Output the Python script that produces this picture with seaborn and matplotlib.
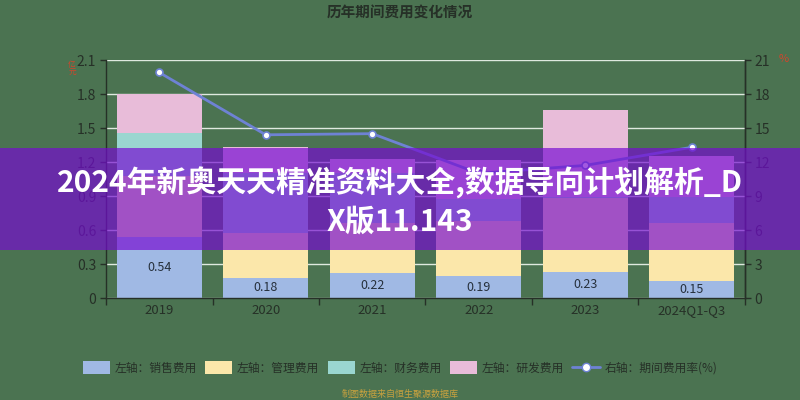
import numpy as np
import pandas as pd
import matplotlib
matplotlib.use("Agg")
import matplotlib.pyplot as plt
from matplotlib.patches import Patch, Rectangle
from matplotlib.lines import Line2D
import seaborn as sns

# ---------------- data ----------------
categories = ['2019', '2020', '2021', '2022', '2023', '2024Q1-Q3']
sales = [0.54, 0.18, 0.22, 0.19, 0.23, 0.15]        # 销售费用
mgmt = [0.54, 0.39, 0.44, 0.49, 0.65, 0.51]         # 管理费用
fin = [0.38, 0.53, 0.44, 0.19, 0.01, 0.23]          # 财务费用
rnd = [0.34, 0.23, 0.13, 0.35, 0.77, 0.36]          # 研发费用
rate = [19.9, 14.4, 14.5, 11.0, 11.7, 13.3]         # 期间费用率(%)
left_ticks = [0, 0.3, 0.6, 0.9, 1.2, 1.5, 1.8, 2.1]
right_ticks = [0, 3, 6, 9, 12, 15, 18, 21]

series_names = ['左轴：销售费用', '左轴：管理费用', '左轴：财务费用', '左轴：研发费用']
line_name = '右轴：期间费用率(%)'
title = '历年期间费用变化情况'
note = '制图数据来自恒生聚源数据库'
banner_lines = ['2024年新奥天天精准资料大全,数据导向计划解析_D', 'X版11.143']

# ---------------- style ----------------
BG = '#4b7351'
C_BLUE = '#a0b9e4'
C_YEL = '#fbe7aa'
C_TEAL = '#9ad6d0'
C_PINK = '#e8bcd9'
C_LINE = '#6e82d4'
DARK = '#263027'

sns.set_theme(style='white')
plt.rcParams['font.family'] = ['Noto Sans CJK SC', 'DejaVu Sans']
plt.rcParams['axes.unicode_minus'] = False

df = pd.DataFrame({'cat': categories, 'sales': sales, 'mgmt': mgmt,
                   'fin': fin, 'rnd': rnd, 'rate': rate})
df['c1'] = df['sales']
df['c2'] = df['c1'] + df['mgmt']
df['c3'] = df['c2'] + df['fin']
df['c4'] = df['c3'] + df['rnd']

fig = plt.figure(figsize=(8, 4), dpi=100, facecolor=BG)
ax = fig.add_axes([106 / 800, 1 - 298 / 400, (745 - 106) / 800, (298 - 60) / 400])
ax.set_facecolor(BG)

for col, c in [('c4', C_PINK), ('c3', C_TEAL), ('c2', C_YEL), ('c1', C_BLUE)]:
    sns.barplot(data=df, x='cat', y=col, color=c, saturation=1, width=0.8,
                errorbar=None, linewidth=0, ax=ax, zorder=2)

ax.bar_label(ax.containers[-1], labels=[f'{v:.2f}' for v in sales],
             label_type='center', fontsize=9, color='#26303c')

ax.set_ylim(0, 2.1)
ax.set_yticks(left_ticks)
ax.set_yticklabels([('0' if t == 0 else f'{t:.1f}') for t in left_ticks])
ax.set_xlim(-0.5, len(categories) - 0.5)
ax.set_xlabel('')
ax.set_ylabel('')
ax.yaxis.grid(True, color='#dfe9df', lw=1)
ax.set_axisbelow(True)

ax.spines['top'].set_visible(False)
for s in ['left', 'bottom', 'right']:
    ax.spines[s].set_color(DARK)
    ax.spines[s].set_linewidth(1)

ax.tick_params(axis='y', colors=DARK, labelsize=10, length=4, width=1, direction='out', pad=3, left=True)
ax.tick_params(axis='x', which='major', colors=DARK, labelsize=9.5, length=0, pad=4)
ax.set_xticks(np.arange(-0.5, len(categories), 1.0), minor=True)
ax.tick_params(axis='x', which='minor', length=5, width=1, color=DARK, bottom=True)

ax2 = ax.twinx()
sns.lineplot(x=np.arange(len(categories)), y=rate, ax=ax2, color=C_LINE, lw=2,
             marker='o', markersize=5, markerfacecolor='white',
             markeredgecolor=C_LINE, markeredgewidth=1.2, zorder=5)
ax2.set_ylim(0, 21)
ax2.set_yticks(right_ticks)
ax2.set_yticklabels([str(t) for t in right_ticks])
ax2.tick_params(axis='y', colors=DARK, labelsize=10, length=4, width=1, direction='out', pad=3, right=True)
for s in ['top', 'left', 'bottom']:
    ax2.spines[s].set_visible(False)
ax2.spines['right'].set_color(DARK)
ax2.spines['right'].set_linewidth(1)
ax2.set_ylabel('')

# axis unit marks (red)
fig.text(72 / 800, 1 - 69 / 400, '亿\n元', color='#d2452c', fontsize=5.5, ha='center', va='center', linespacing=0.9)
fig.text(784 / 800, 1 - 59 / 400, '%', color='#d2452c', fontsize=8, ha='center', va='center', style='italic')

# title
fig.text(0.5, 1 - 13 / 400, title, ha='center', va='center', fontsize=10.5,
         fontweight='bold', color=DARK)

# legend
handles = [Patch(facecolor=c, edgecolor='none', label=n)
           for c, n in zip([C_BLUE, C_YEL, C_TEAL, C_PINK], series_names)]
handles.append(Line2D([0], [0], color=C_LINE, lw=2, marker='o', markersize=6,
                      markerfacecolor='white', markeredgecolor=C_LINE, label=line_name))
fig.legend(handles=handles, loc='center', bbox_to_anchor=(0.5, 1 - 368 / 400), ncol=5,
           frameon=False, fontsize=8.5, handlelength=2.3, handleheight=1.2,
           columnspacing=0.7, handletextpad=0.4, labelcolor=DARK)

# footnote
fig.text(0.5, 1 - 394 / 400, note, ha='center', va='center', fontsize=6.5, color='#c9a23f')

# banner overlay
fig.patches.append(Rectangle((0, 1 - 250 / 400), 1, 102 / 400, transform=fig.transFigure,
                             facecolor='#760ad2', alpha=0.68, edgecolor='none', zorder=10))
fig.text(0.5, 1 - 183 / 400, banner_lines[0], ha='center', va='center', fontsize=21.5,
         fontweight='bold', color='white', zorder=11)
fig.text(0.5, 1 - 222 / 400, banner_lines[1], ha='center', va='center', fontsize=21.5,
         fontweight='bold', color='white', zorder=11)

fig.savefig('out.png', dpi=100, facecolor=BG)
